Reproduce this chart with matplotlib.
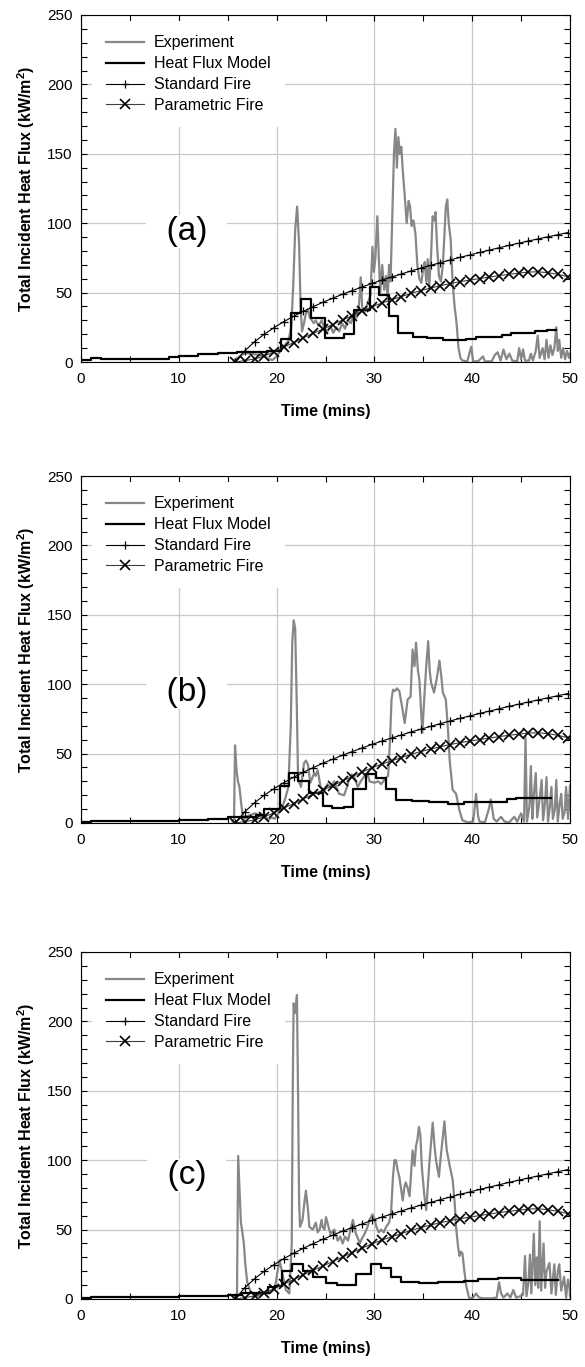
import numpy as np
import matplotlib
matplotlib.use("Agg")
import matplotlib.pyplot as plt
from matplotlib.ticker import MultipleLocator

plt.rcParams['font.family'] = ['Liberation Sans', 'DejaVu Sans']
plt.rcParams['mathtext.fontset'] = 'custom'
plt.rcParams['mathtext.rm'] = 'Liberation Sans'
plt.rcParams['mathtext.bf'] = 'Liberation Sans:bold'

# === DATA ===
# fire curves: one marker per minute, starting at 15.75 min
fire_t = [15.75 + n for n in range(35)]
standard_q = [0, 8.1, 14.6, 20.1, 24.8, 29.1, 33.0, 36.6, 39.9, 43.1, 46.0, 48.9,
              51.5, 54.1, 56.6, 59.0, 61.2, 63.4, 65.6, 67.6, 69.6, 71.6, 73.5,
              75.4, 77.1, 78.9, 80.6, 82.3, 84.0, 85.6, 87.2, 88.7, 90.2, 91.7, 93.2]
parametric_q = [0, 1.0, 2.2, 4.4, 7.4, 10.8, 14.0, 17.5, 20.7, 23.8, 27.0, 30.3,
                33.5, 36.7, 39.8, 42.4, 44.8, 47.1, 49.5, 51.5, 53.3, 55.0, 56.5,
                57.9, 59.0, 60.1, 61.2, 62.2, 63.2, 64.0, 64.8, 65.0, 64.3, 63.2, 61.5]

# heat flux model (step changes, steps-post)
model_a_t = [0, 1, 2, 3.5, 5, 7, 9, 10, 12, 14, 16, 17.5, 19, 20.4, 21.5, 22.5, 23.5,
             24.9, 26.9, 27.9, 29.5, 30.5, 31.5, 32.4, 33.9, 35.4, 37.0, 39.4, 40.4,
             43.0, 44.0, 46.4, 47.6, 48.6]
model_a_q = [1.5, 3.0, 2.5, 2.0, 2.0, 2.5, 3.5, 4.5, 5.5, 6.3, 7.0, 7.5, 8.0, 16.4, 35.6,
             45.2, 31.5, 17.1, 20.0, 37.5, 53.9, 48.3, 33.5, 21.2, 18.3, 17.0, 16.0, 16.6,
             18.0, 19.5, 20.7, 22.4, 23.1, 23.1]
model_b_t = [0, 1, 5, 10, 13, 15, 17.9, 18.7, 20.3, 21.3, 22.2, 23.3, 24.7, 25.7, 26.9,
             27.8, 29.1, 30.2, 31.2, 32.2, 33.8, 35.6, 37.5, 39.2, 42.6, 43.6, 44.5, 48.1]
model_b_q = [1.0, 1.8, 1.5, 2.2, 3.0, 4.0, 5.5, 9.8, 26.7, 35.9, 30.3, 21.9, 12.2, 10.6,
             11.8, 24.3, 35.4, 32.3, 24.3, 16.6, 15.5, 14.8, 13.8, 15.2, 15.0, 17.0,
             17.8, 17.8]
model_c_t = [0, 1, 5, 10, 13, 15, 16.5, 19.1, 19.8, 20.6, 21.6, 22.7, 23.7, 25.05, 26.2,
             28.1, 29.65, 30.7, 31.7, 32.7, 34.6, 36.5, 39.2, 40.6, 42.6, 45.0, 48.8]
model_c_q = [1.0, 1.8, 1.5, 2.0, 2.5, 3.0, 4.5, 8.4, 9.4, 20.4, 25.0, 20.2, 15.5, 11.3,
             10.1, 18.0, 25.0, 22.1, 16.1, 12.3, 11.8, 12.2, 13.0, 14.2, 14.9, 13.7, 13.7]

# experiment
exp_a_t = [15.7, 16.0, 16.4, 16.8, 17.3, 17.8, 18.3, 18.8, 19.2, 19.6, 20.0, 20.4, 20.8,
           21.2, 21.5, 21.7, 21.9, 22.1, 22.3, 22.45, 22.6, 22.8, 23.0, 23.2, 23.4, 23.6,
           23.8, 24.0, 24.3, 24.6, 24.9, 25.2, 25.5, 25.8, 26.1, 26.4, 26.7, 27.0, 27.3,
           27.6, 27.9, 28.2, 28.4, 28.6, 28.75, 29.0, 29.3, 29.6, 29.8, 29.95, 30.1, 30.3,
           30.45, 30.6, 30.8, 31.0, 31.2, 31.35, 31.5, 31.65, 31.8, 32.0, 32.15, 32.3,
           32.45, 32.6, 32.75, 32.9, 33.1, 33.3, 33.5, 33.65, 33.8, 34.0, 34.2, 34.4, 34.6,
           34.8, 35.0, 35.15, 35.3, 35.45, 35.6, 35.8, 35.95, 36.1, 36.25, 36.4, 36.6,
           36.8, 37.0, 37.15, 37.3, 37.45, 37.6, 37.8, 38.0, 38.2, 38.4, 38.6, 38.8, 39.0,
           39.5, 39.9, 40.1, 40.6, 41.1, 41.3, 42.0, 42.3, 42.6, 42.9, 43.2, 43.5, 43.8,
           44.1, 44.6, 44.8, 45.0, 45.2, 45.4, 45.8, 46.0, 46.2, 46.5, 46.7, 46.9, 47.2,
           47.4, 47.6, 47.8, 48.0, 48.2, 48.4, 48.6, 48.75, 48.9, 49.1, 49.3, 49.5, 49.7,
           49.9, 50.0]
exp_a_q = [1.5, 3, 5, 6.5, 6, 5.5, 5, 4, 2, 1.5, 4, 8, 12, 15, 25, 55, 95, 112, 85, 40,
           22, 28, 35, 38, 32, 30, 28, 30, 26, 30, 24, 22, 26, 21, 25, 22, 28, 24, 30, 28,
           35, 32, 38, 61, 40, 36, 42, 48, 83, 65, 75, 105, 75, 50, 70, 52, 62, 45, 70, 58,
           98, 150, 168, 140, 162, 150, 155, 138, 120, 100, 116, 112, 98, 102, 92, 69, 60,
           57, 68, 72, 58, 74, 54, 78, 105, 102, 108, 85, 62, 58, 70, 90, 112, 117, 100,
           88, 57, 40, 28, 10, 3, 1, 0.5, 11, 0.5, 0.5, 4, 0.5, 0.5, 5, 7, 1, 9, 2, 6, 1,
           0.5, 10, 2, 9, 1, 1, 6, 1, 8, 19, 3, 10, 2, 16, 3, 12, 5, 10, 25, 8, 16, 3, 10,
           2, 8, 3, 6]

exp_b_t = [15.5, 15.65, 15.75, 15.9, 16.05, 16.2, 16.35, 16.5, 16.7, 17.0, 17.4, 17.8,
           18.1, 18.5, 18.8, 19.1, 19.5, 19.8, 20.1, 20.4, 20.6, 20.9, 21.2, 21.45, 21.6,
           21.75, 21.9, 22.05, 22.2, 22.5, 22.8, 23.0, 23.2, 23.45, 23.85, 24.0, 24.2,
           24.5, 24.9, 25.2, 25.5, 25.9, 26.2, 26.4, 26.9, 27.2, 27.4, 27.7, 27.95, 28.3,
           28.6, 29.0, 29.3, 29.5, 30.0, 30.4, 30.7, 31.1, 31.4, 31.6, 31.75, 31.9, 32.1,
           32.3, 32.55, 32.8, 33.1, 33.4, 33.7, 33.9, 34.1, 34.26, 34.45, 34.6, 34.9,
           35.1, 35.3, 35.5, 35.65, 35.8, 36.1, 36.4, 36.65, 36.85, 37.0, 37.3, 37.5,
           37.7, 38.0, 38.35, 38.7, 39.0, 39.5, 40.1, 40.4, 40.6, 40.75, 41.3, 41.7, 41.9,
           42.2, 42.5, 42.95, 43.3, 43.8, 44.3, 44.6, 45.0, 45.3, 45.45, 45.6, 45.85,
           46.0, 46.15, 46.3, 46.5, 46.65, 46.9, 47.1, 47.25, 47.45, 47.6, 47.75, 47.95,
           48.1, 48.25, 48.45, 48.6, 48.75, 48.95, 49.1, 49.25, 49.45, 49.6, 49.8, 50.0]
exp_b_q = [1, 3, 56, 38, 30, 26, 16, 7, 3, 5, 6, 7, 6, 4, 6, 2, 4, 3, 6, 10, 12, 18, 26,
           70, 130, 146, 140, 90, 31, 26, 43, 45, 42, 29, 36, 34, 38, 26, 23, 28, 26, 30,
           24, 21, 20, 26, 31, 35, 33, 26, 30, 34, 36, 30, 29, 30, 28, 32, 34, 60, 89, 96,
           95, 97, 95, 85, 72, 89, 91, 125, 113, 130, 110, 103, 65, 90, 113, 131, 110,
           101, 94, 105, 117, 105, 94, 89, 70, 45, 24, 21, 9, 2, 0.5, 1, 21, 5, 1, 0.5,
           10, 17, 3, 1, 4.5, 1, 0.5, 4.5, 1, 7, 1, 62, 1, 12, 41, 3, 20, 36, 4, 18, 31, 2,
           15, 33, 1, 12, 26, 3, 10, 31, 1, 14, 21, 3, 8, 26, 3, 27]

exp_c_t = [15.7, 15.95, 16.07, 16.2, 16.35, 16.5, 16.65, 16.8, 17.0, 17.3, 17.6, 18.0,
           18.4, 18.8, 19.2, 19.6, 19.85, 20.1, 20.3, 20.6, 20.95, 21.3, 21.55, 21.65,
           21.74, 21.9, 22.08, 22.2, 22.3, 22.4, 22.65, 22.85, 23.0, 23.2, 23.35, 23.7,
           24.0, 24.2, 24.4, 24.6, 24.7, 24.9, 25.05, 25.2, 25.5, 25.9, 26.25, 26.5,
           26.75, 27.0, 27.3, 27.55, 27.8, 28.1, 28.3, 28.5, 28.75, 29.0, 29.3, 29.5,
           29.8, 30.0, 30.2, 30.45, 30.7, 30.95, 31.2, 31.5, 31.7, 31.9, 32.05, 32.2,
           32.4, 32.55, 32.75, 32.9, 33.05, 33.2, 33.4, 33.6, 33.75, 33.9, 34.1, 34.25,
           34.4, 34.55, 34.7, 34.85, 35.1, 35.3, 35.45, 35.6, 35.8, 35.96, 36.15, 36.3,
           36.6, 36.75, 36.9, 37.05, 37.16, 37.3, 37.4, 37.7, 38.0, 38.2, 38.35, 38.55,
           38.7, 38.85, 39.0, 39.2, 39.4, 39.7, 40.1, 40.4, 40.7, 41.2, 42.0, 42.5, 42.75,
           42.95, 43.2, 43.6, 43.9, 44.2, 44.5, 44.9, 45.2, 45.4, 45.55, 45.75, 45.9,
           46.05, 46.3, 46.45, 46.6, 46.75, 46.9, 47.05, 47.3, 47.45, 47.6, 47.9, 48.1,
           48.4, 48.55, 48.75, 48.9, 49.1, 49.4, 49.6, 49.8, 49.95, 50.0]
exp_c_q = [2, 3, 103, 80, 55, 48, 40, 25, 12, 6, 4, 2, 3, 5, 4, 6, 9, 20, 28, 18, 6.5, 4,
           40, 150, 213, 206, 219, 143, 70, 52, 57, 70, 78, 65, 52, 50, 55, 48, 50, 57, 52,
           50, 59, 55, 47, 50, 42, 45, 40, 45, 42, 50, 57, 47, 44, 40, 44, 47, 52, 57, 61,
           58, 52, 48, 50, 48, 52, 55, 62, 88, 100, 100, 92, 88, 78, 71, 80, 84, 80, 74,
           90, 107, 96, 110, 115, 124, 118, 95, 75, 64, 80, 96, 113, 127, 110, 100, 88,
           100, 110, 120, 128, 115, 107, 96, 86, 70, 52, 38, 31, 34, 33, 20, 9, 0.5, 1, 4,
           1, 0.5, 0.5, 1, 12, 4, 1, 4, 1, 6.5, 1, 2, 3, 31, 2, 12, 32, 4, 47, 10, 30, 8,
           56, 6, 40, 8, 20, 26, 4, 25, 3, 20, 25, 6, 16, 1, 14, 9, 2]

panels = [
    ('(a)', exp_a_t, exp_a_q, model_a_t, model_a_q, 1 - 362 / 1367, 94),
    ('(b)', exp_b_t, exp_b_q, model_b_t, model_b_q, 1 - 823 / 1367, 94),
    ('(c)', exp_c_t, exp_c_q, model_c_t, model_c_q, 1 - 1299 / 1367, 89),
]

# === PLOT ===
fig = plt.figure(figsize=(5.85, 13.67), dpi=100)

for tag, et, eq, mt, mq, bottom, tag_y in panels:
    ax = fig.add_axes([81 / 585, bottom, 489 / 585, 347 / 1367])
    ax.plot(et, eq, color='#878787', lw=1.6, label='Experiment', zorder=2)
    ax.plot(mt, mq, color='black', lw=1.6, drawstyle='steps-post',
            label='Heat Flux Model', zorder=3)
    ax.plot(fire_t, standard_q, color='black', lw=0.8, marker='+', ms=6,
            mew=0.9, label='Standard Fire', zorder=3)
    ax.plot(fire_t, parametric_q, color='#404040', lw=0.8, marker='x', ms=7,
            mew=1.2, mec='black', label='Parametric Fire', zorder=3)

    ax.set_xlim(0, 50)
    ax.set_ylim(0, 250)
    ax.xaxis.set_major_locator(MultipleLocator(10))
    ax.xaxis.set_minor_locator(MultipleLocator(5))
    ax.yaxis.set_major_locator(MultipleLocator(50))
    ax.yaxis.set_minor_locator(MultipleLocator(10))
    ax.tick_params(which='both', direction='in', top=True, right=True,
                   length=4, width=0.8, labelsize=11)
    ax.tick_params(axis='x', pad=7)
    ax.tick_params(axis='y', pad=6)
    ax.grid(True, which='major', color='#c8c8c8', lw=0.9, zorder=0)
    ax.set_axisbelow(True)
    for sp in ax.spines.values():
        sp.set_linewidth(0.8)

    ax.set_xlabel('Time (mins)', fontsize=11.5, fontweight='bold', labelpad=13)
    ax.set_ylabel(r'Total Incident Heat Flux (kW/m$^{\mathbf{2}}$)', fontsize=11.5,
                  fontweight='bold', labelpad=7)

    leg = ax.legend(loc='upper left', bbox_to_anchor=(0.022, 0.983), borderaxespad=0,
                    fontsize=11.5, frameon=True, fancybox=False, framealpha=1,
                    edgecolor='none', facecolor='white', handlelength=2.4,
                    handletextpad=0.6, labelspacing=0.37, borderpad=0.9, numpoints=1)
    leg.set_zorder(5)

    ax.text(10.8, tag_y, '  ' + tag + '  ', fontsize=24, ha='center', va='center',
            zorder=4, bbox=dict(facecolor='white', edgecolor='none', pad=1))

plt.savefig('out.png', dpi=100)
